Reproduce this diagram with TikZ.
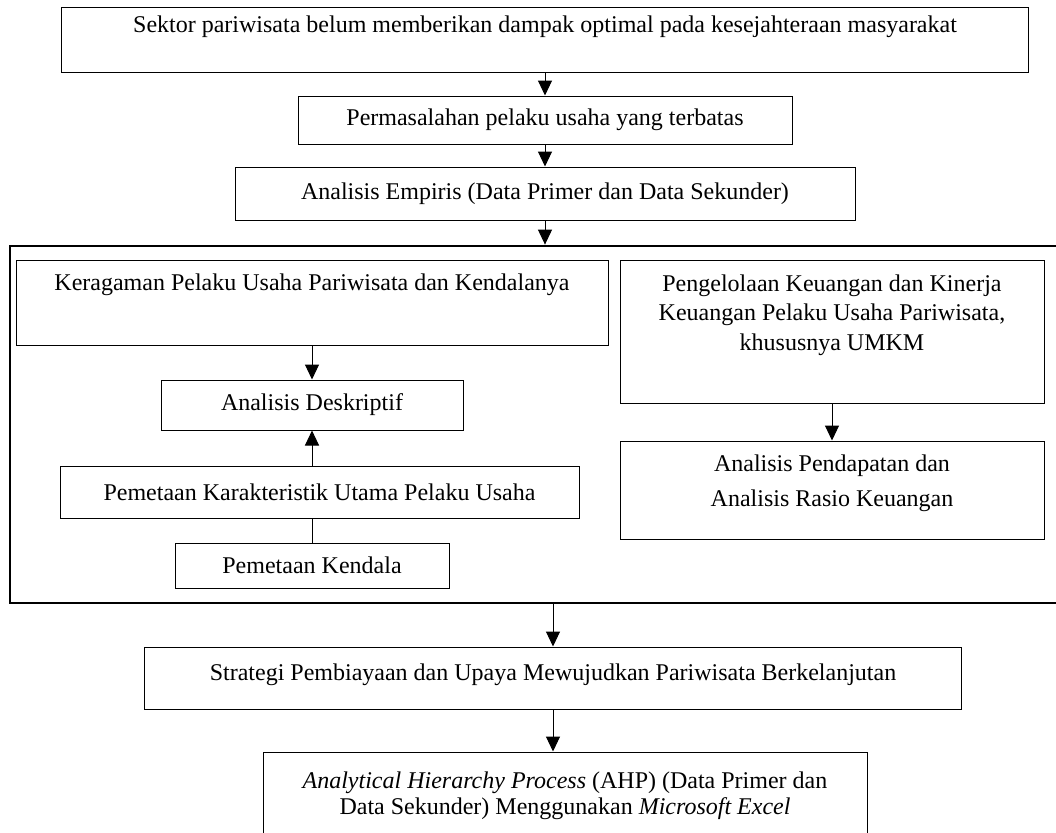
\documentclass[tikz,border=0pt]{standalone}
\usepackage{fontspec}
\setmainfont{Liberation Serif}
\usetikzlibrary{arrows.meta}
\tikzset{
  blok/.style={draw=black, line width=0.5pt, rectangle, inner sep=0pt, align=center, font=\fontsize{12}{14}\selectfont},
  bingkai/.style={draw=black, line width=1.4pt, rectangle, inner sep=0pt},
  panah/.style={draw=black, line width=0.5pt, -{Triangle[width=7pt,length=7.5pt]}},
  garis/.style={draw=black, line width=0.5pt},
}
\begin{document}
\begin{tikzpicture}[x=0.5pt, y=-0.5pt]
            \useasboundingbox (0,0) rectangle (1056,832);

            \node[blok, minimum width=483.5pt, minimum height=32.5pt, text depth=15pt] (sektor) at (545,39.5) {Sektor pariwisata belum memberikan dampak optimal pada kesejahteraan masyarakat};
            \node[blok, minimum width=247pt, minimum height=24pt] (masalah) at (545,120) {Permasalahan pelaku usaha yang terbatas};
            \node[blok, minimum width=310pt, minimum height=26.5pt] (empiris) at (545,193.5) {Analisis Empiris (Data Primer dan Data Sekunder)};

            \node[bingkai, minimum width=526pt, minimum height=178.5pt] (kotak) at (536,424.5) {};
            \node[blok, minimum width=296pt, minimum height=42.5pt, text depth=20.5pt] (ragam) at (312,302.5) {Keragaman Pelaku Usaha Pariwisata dan Kendalanya};
            \node[blok, minimum width=151pt, minimum height=25pt] (deskriptif) at (312,405) {Analisis Deskriptif};
            \node[blok, minimum width=259.5pt, minimum height=26pt] (karakter) at (319.5,492) {Pemetaan Karakteristik Utama Pelaku Usaha};
            \node[blok, minimum width=137pt, minimum height=22.5pt] (kendala) at (312,565.5) {Pemetaan Kendala};
            \node[blok, minimum width=212pt, minimum height=71.5pt, text depth=19pt, font=\fontsize{12}{14.75}\selectfont] (kelola) at (832,331.5) {Pengelolaan Keuangan dan Kinerja\\Keuangan Pelaku Usaha Pariwisata,\\khususnya UMKM};
            \node[blok, minimum width=212pt, minimum height=49pt, text depth=9pt, font=\fontsize{12}{17.5}\selectfont] (rasio) at (832,490) {Analisis Pendapatan dan\\Analisis Rasio Keuangan};

            \node[blok, minimum width=408.5pt, minimum height=31pt, text depth=6pt] (strategi) at (553,678) {Strategi Pembiayaan dan Upaya Mewujudkan Pariwisata Berkelanjutan};
            \node[blok, minimum width=302pt, minimum height=49pt, text depth=8pt, font=\fontsize{12}{13}\selectfont] (ahp) at (565,801) {\textit{Analytical Hierarchy Process} (AHP) (Data Primer dan\\Data Sekunder) Menggunakan \textit{Microsoft Excel}};

            \draw[panah] (sektor.south) -- (masalah.north);
            \draw[panah] (masalah.south) -- (empiris.north);
            \draw[panah] (empiris.south) -- (empiris.south |- kotak.north);
            \draw[panah] (ragam.south) -- (deskriptif.north);
            \draw[panah] (deskriptif.south |- karakter.north) -- (deskriptif.south);
            \draw[garis] (kendala.north |- karakter.south) -- (kendala.north);
            \draw[panah] (kelola.south) -- (rasio.north);
            \draw[panah] (strategi.north |- kotak.south) -- (strategi.north);
            \draw[panah] (strategi.south) -- (strategi.south |- ahp.north);

        \end{tikzpicture}
\end{document}
